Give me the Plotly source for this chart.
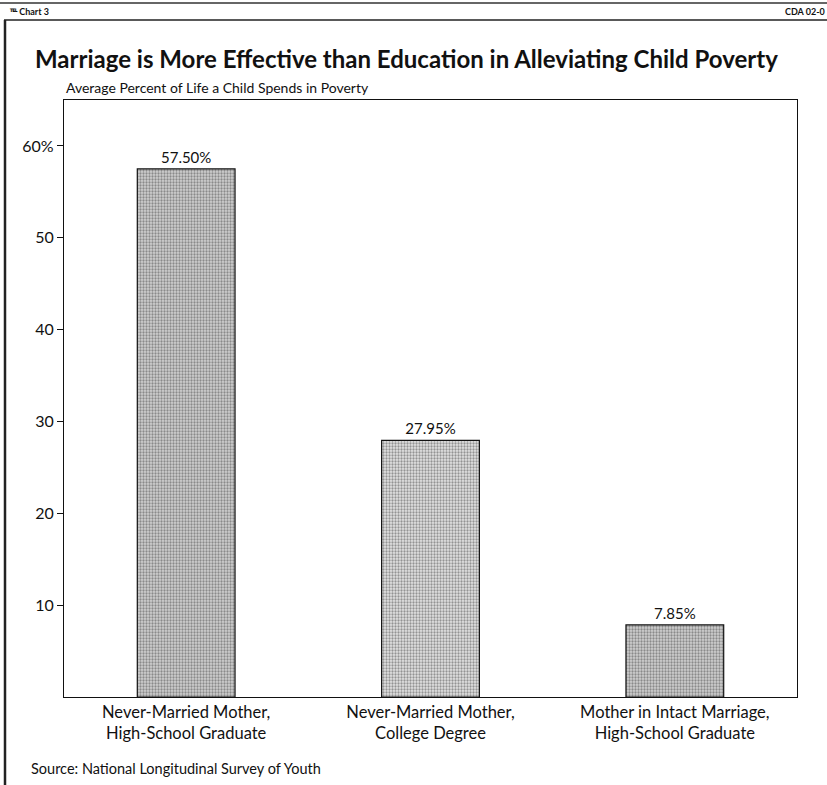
import plotly.graph_objects as go

categories = ["Never-Married Mother,<br>High-School Graduate",
              "Never-Married Mother,<br>College Degree",
              "Mother in Intact Marriage,<br>High-School Graduate"]
values = [57.50, 27.95, 7.85]
tick_vals = [10, 20, 30, 40, 50, 60]
tick_text = ["10", "20", "30", "40", "50", "60%"]

FONT = "Lato, 'Open Sans', sans-serif"

fig = go.Figure()
fig.add_trace(go.Bar(
    x=categories,
    y=values,
    width=0.4,
    text=[f"{v:.2f}%" for v in values],
    textposition="outside",
    textfont=dict(family=FONT, size=15, color="#111"),
    cliponaxis=False,
    marker=dict(
        color=["#d0d0d0", "#e2e2e2", "#d0d0d0"],
        line=dict(color="#111", width=1.2),
        pattern=dict(shape=".", size=3, solidity=0.45,
                     fgcolor="#3a3a3a", fillmode="overlay"),
    ),
))

fig.update_layout(
    width=827, height=785,
    margin=dict(l=64, r=30, t=100, b=88),
    paper_bgcolor="white", plot_bgcolor="white",
    showlegend=False,
    font=dict(family=FONT, color="#111"),
)
fig.update_xaxes(
    range=[-0.5, 2.5],
    showline=True, linecolor="#111", linewidth=1.2, mirror=True,
    ticks="", tickfont=dict(size=16.5), showgrid=False,
)
fig.update_yaxes(
    range=[0, 65],
    tickvals=tick_vals, ticktext=tick_text,
    showline=True, linecolor="#111", linewidth=1.2, mirror=True,
    ticks="outside", ticklen=6, tickcolor="#111",
    tickfont=dict(size=16), showgrid=False, zeroline=False,
)


def px(x):
    return (x - 64) / 733


def py(y):
    return 1 - (y - 100) / 597


# page furniture: header rules and left border
fig.add_shape(type="line", xref="paper", yref="paper", x0=px(0), x1=px(827), y0=py(3), y1=py(3),
              line=dict(color="#333", width=1.5))
fig.add_shape(type="line", xref="paper", yref="paper", x0=px(4), x1=px(827), y0=py(20), y1=py(20),
              line=dict(color="#222", width=1.5))
fig.add_shape(type="line", xref="paper", yref="paper", x0=px(5), x1=px(5), y0=py(20), y1=py(785),
              line=dict(color="#222", width=2.5))

annotations = [
    dict(text="<b>Marriage is More Effective than Education in Alleviating Child Poverty</b>",
         x=33, y=59, size=24),
    dict(text="Average Percent of Life a Child Spends in Poverty", x=64, y=87, size=14),
    dict(text="Source: National Longitudinal Survey of Youth", x=29, y=768, size=14.5),
    dict(text="<b>\u2121 Chart 3</b>", x=7, y=11, size=9),
]
for a in annotations:
    fig.add_annotation(text=a["text"], xref="paper", yref="paper",
                       x=px(a["x"]), y=py(a["y"]),
                       xanchor="left", yanchor="middle", showarrow=False,
                       font=dict(family=FONT, size=a["size"], color="#111"))
fig.add_annotation(text="<b>CDA 02-0</b>", xref="paper", yref="paper",
                   x=px(827), y=py(11),
                   xanchor="right", yanchor="middle", showarrow=False,
                   font=dict(family=FONT, size=9, color="#111"))

fig.write_html("out.html")
